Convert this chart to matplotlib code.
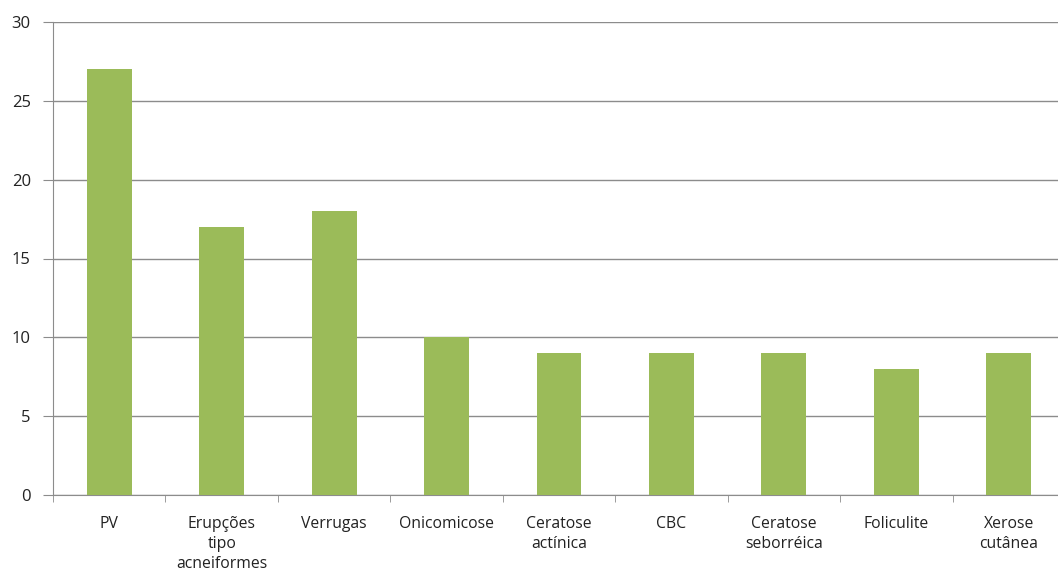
import numpy as np
import matplotlib.pyplot as plt

categorias = ["PV", "Erupções\ntipo\nacneiformes", "Verrugas", "Onicomicose",
              "Ceratose\nactínica", "CBC", "Ceratose\nseborréica", "Foliculite",
              "Xerose\ncutânea"]
valores = [27, 17, 18, 10, 9, 9, 9, 8, 9]

plt.rcParams['font.family'] = ['Open Sans', 'DejaVu Sans']

fig = plt.figure(figsize=(10.58, 5.72), dpi=100)
# the plot area runs a little past the right edge of the image
ax = fig.add_axes([53 / 1058, 1 - 495 / 572, 1012 / 1058, 473 / 572])

x = np.arange(len(categorias))
ax.bar(x, valores, width=0.4, color='#9BBB59', zorder=3)

ax.set_xlim(-0.5, len(categorias) - 0.5)
ax.set_ylim(0, 30)
ax.set_yticks(range(0, 31, 5))
ax.yaxis.grid(True, color='#8c8c8c', linewidth=1, zorder=0)

ax.set_xticks(x)
ax.set_xticklabels(categorias, fontsize=11.3, color='#222222', linespacing=1.35, va='top')
ax.set_xticks(np.arange(-0.5, len(categorias), 1), minor=True)
ax.tick_params(axis='x', which='major', length=0, pad=15)
ax.tick_params(axis='x', which='minor', length=5, color='#8c8c8c')
ax.tick_params(axis='y', length=7, color='#8c8c8c', labelsize=12, pad=9, labelcolor='#222222')

for s in ['top', 'right']:
    ax.spines[s].set_visible(False)
ax.spines['left'].set_color('#8c8c8c')
ax.spines['bottom'].set_color('#8c8c8c')

fig.savefig('out.png', dpi=100)
